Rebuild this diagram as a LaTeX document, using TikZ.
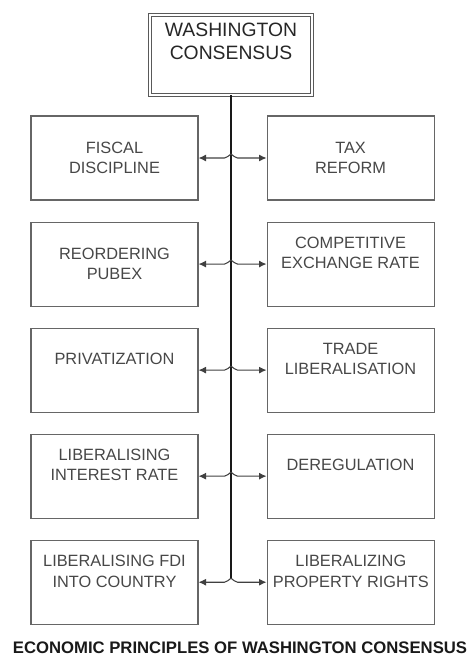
\documentclass[tikz,border=0pt]{standalone}
\usepackage{fontspec}
\setmainfont{Liberation Sans}
\usetikzlibrary{positioning}
\usetikzlibrary{arrows.meta}

\newcommand{\lift}{\\[1pt]\mbox{}}

\begin{document}
\begin{tikzpicture}[
                          node distance=0.42cm and 1.36cm,
                          topnode/.style={rectangle, draw=black!65, double, double distance=1.6pt, line width=0.55pt, minimum width=3.24cm, minimum height=1.6cm, align=center, text=black!85, font=\fontsize{11}{13}\selectfont},
                          principle/.style={rectangle, draw=black!60, line width=0.6pt, minimum width=3.34cm, minimum height=1.68cm, align=center, text=black!72, font=\fontsize{9.3}{11.7}\selectfont},
                          caption/.style={font=\bfseries\fontsize{9.5}{11}\selectfont, text=black!90},
                          trunk/.style={draw=black!90, line width=1pt},
                          branch/.style={draw=black!75, line width=0.6pt, -{Latex[length=1.5mm,width=1.4mm]}},
                      ]
                      \useasboundingbox (0,0) rectangle (9.38,-13.28);

                      % Nodes
                      \node[topnode]        (consensus)     at (4.62,-1.1)        {WASHINGTON\\CONSENSUS\\[2.4pt]\mbox{}};

                      \node[principle]      (fiscal)        at (2.29,-3.16)       {FISCAL\\DISCIPLINE};
                      \node[principle]      (pubex)         [below=of fiscal]     {REORDERING\\PUBEX};
                      \node[principle]      (privatization) [below=of pubex]      {PRIVATIZATION\lift};
                      \node[principle]      (interest)      [below=of privatization] {LIBERALISING\\INTEREST RATE\lift};
                      \node[principle]      (fdi)           [below=of interest]   {LIBERALISING FDI\\INTO COUNTRY\lift};

                      \node[principle]      (tax)           [right=of fiscal]     {TAX\\REFORM};
                      \node[principle]      (exchange)      [right=of pubex]      {COMPETITIVE\\EXCHANGE RATE\lift};
                      \node[principle]      (trade)         [right=of privatization] {TRADE\\LIBERALISATION\lift};
                      \node[principle]      (dereg)         [right=of interest]   {DEREGULATION\lift};
                      \node[principle]      (property)      [right=of fdi]        {LIBERALIZING\\PROPERTY RIGHTS\lift};

                      \node[caption]        (title)         at (4.8,-12.96)       {ECONOMIC PRINCIPLES OF WASHINGTON CONSENSUS};

                      % Hops on the trunk
                      \path (consensus.south |- fiscal.east) ++(0,0.08) coordinate (hop1);
                      \path (consensus.south |- pubex.east) ++(0,0.08) coordinate (hop2);
                      \path (consensus.south |- privatization.east) ++(0,0.08) coordinate (hop3);
                      \path (consensus.south |- interest.east) ++(0,0.08) coordinate (hop4);
                      \path (consensus.south |- fdi.east) ++(0,0.08) coordinate (hop5);

                      %Lines
                      \draw[trunk] (consensus.south) -- (hop5);
                      \draw[branch] (hop1) to[out=-155,in=0] ++(-0.13,-0.08) -- (fiscal.east);
                      \draw[branch] (hop1) to[out=-25,in=180] ++(0.13,-0.08) -- (tax.west);
                      \draw[branch] (hop2) to[out=-155,in=0] ++(-0.13,-0.08) -- (pubex.east);
                      \draw[branch] (hop2) to[out=-25,in=180] ++(0.13,-0.08) -- (exchange.west);
                      \draw[branch] (hop3) to[out=-155,in=0] ++(-0.13,-0.08) -- (privatization.east);
                      \draw[branch] (hop3) to[out=-25,in=180] ++(0.13,-0.08) -- (trade.west);
                      \draw[branch] (hop4) to[out=-155,in=0] ++(-0.13,-0.08) -- (interest.east);
                      \draw[branch] (hop4) to[out=-25,in=180] ++(0.13,-0.08) -- (dereg.west);
                      \draw[branch] (hop5) to[out=-155,in=0] ++(-0.13,-0.08) -- (fdi.east);
                      \draw[branch] (hop5) to[out=-25,in=180] ++(0.13,-0.08) -- (property.west);
                  \end{tikzpicture}
\end{document}
